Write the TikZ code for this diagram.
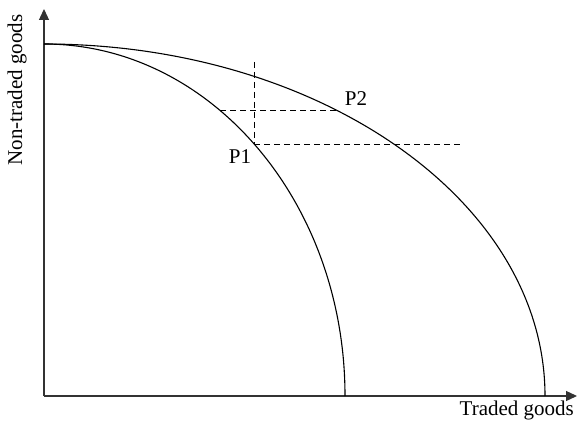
\documentclass[tikz,border=0pt]{standalone}
\usepackage{fontspec}
\setmainfont{Liberation Serif}
\usetikzlibrary{arrows.meta,positioning}
\definecolor{axisgray}{HTML}{333333}

\begin{document}
\begin{tikzpicture}[
    x=1pt,y=1pt,
    ax/.style    = {-{Triangle[length=11pt,width=10pt]},axisgray,line width=1.3pt},
    ppf/.style   = {black,line width=1.1pt},
    guide/.style = {black,dashed,dash pattern=on 6pt off 4pt,line width=1pt},
    lab/.style   = {font=\fontsize{21}{24}\selectfont,inner sep=0pt},
  ]
  \useasboundingbox (0,0) rectangle (577,428);

  \coordinate (o)    at (44,32);
  \coordinate (ytop) at (44,419);
  \coordinate (xend) at (577,32);

  % Axes
  \draw[ax] (o) -- (ytop);
  \draw[ax] (o) -- (xend);

  \node[lab,rotate=90] (ylab) at (17,338) {Non-traded goods};
  \node[lab,anchor=base east] (xlab) at (574,13) {Traded goods};

  % Frontieres
  \coordinate (top) at (44,384);
  \draw[ppf] (top) arc[start angle=90,end angle=0,x radius=301,y radius=352]
    coordinate (inend);
  \draw[ppf] (top) arc[start angle=90,end angle=0,x radius=501,y radius=352]
    coordinate (outend);

  % Points
  \coordinate (p1) at (254,283);
  \coordinate (p2) at (336,317);
  \coordinate (vtop) at (254,366);
  \coordinate (hl)   at (220,317);
  \coordinate (hr)   at (463,283);

  \draw[guide] (vtop) -- (p1);
  \draw[guide] (hl) -- (p2);
  \draw[guide] (p1) -- (hr);

  \node[lab] (p1lab) at (240,271) {P1};
  \node[lab] (p2lab) at (356,329) {P2};

\end{tikzpicture}
\end{document}
